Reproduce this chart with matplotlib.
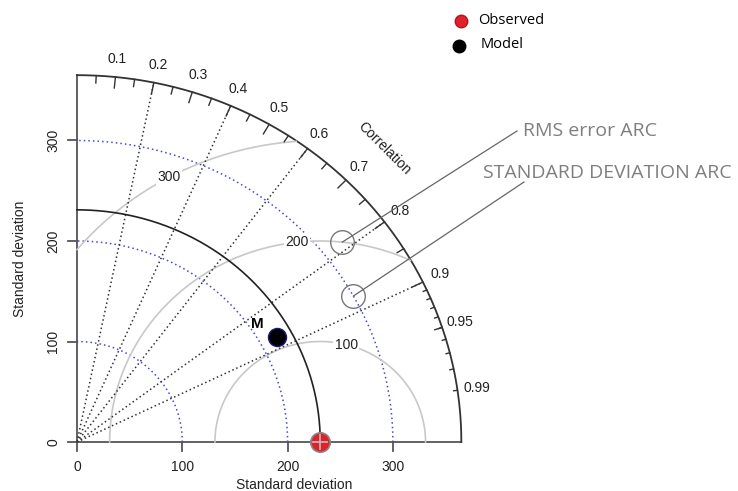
import numpy as np
import matplotlib
matplotlib.use('Agg')
import matplotlib.pyplot as plt

# taylor diagram values
obs_sd = 231.0
model_sd = 217.0
model_corr = 0.876
model_name = "M"
max_sd = 365.0
sd_arcs = [100, 200, 300]
rms_arcs = [100, 200, 300]
corr_lines = [0.2, 0.4, 0.6, 0.8, 0.9]
corr_labels = [0.1, 0.2, 0.3, 0.4, 0.5, 0.6, 0.7, 0.8, 0.9, 0.95, 0.99]
sd_ticks = [0, 100, 200, 300]
legend_names = ["Observed", "Model"]
note_names = ["RMS error ARC", "STANDARD DEVIATION ARC"]

W, H = 738, 491
# where the origin sits (pixels from top-left) and pixels per unit
X0, Y0 = 77, 442
SX, SY = 1.053, 1.005

fig = plt.figure(figsize=(W / 100, H / 100), dpi=100)
ax = fig.add_axes([0, 0, 1, 1])
ax.set_xlim(-X0 / SX, (W - X0) / SX)
ax.set_ylim((Y0 - H) / SY, Y0 / SY)
ax.axis('off')


def px(x, y):
    # pixel position -> data units
    return (x - X0) / SX, (Y0 - y) / SY


def fpx(x, y):
    # pixel position -> figure fraction
    return x / W, 1 - y / H


tick_font = dict(family=['Liberation Sans', 'DejaVu Sans'], fontsize=10, color='#222222')

# axes lines and ticks
ax.plot([0, 0], [0, max_sd], color='#555555', lw=1.3)
ax.plot([0, max_sd], [0, 0], color='#555555', lw=1.3)
for t in sd_ticks:
    ax.plot([0, -9 / SX], [t, t], color='#555555', lw=1.3)
    ax.plot([t, t], [0, -9 / SY], color='#555555', lw=1.3)
    ax.text(*px(53, Y0 - t * SY), str(t), rotation=90, ha='center', va='center', **tick_font)
    ax.text(*px(X0 + t * SX, 467), str(t), ha='center', va='center', **tick_font)

fig.text(*fpx(294, 485), "Standard deviation", ha='center', va='center', **tick_font)
fig.text(*fpx(20, 259), "Standard deviation", rotation=90, ha='center', va='center', **tick_font)

theta = np.linspace(0, np.pi / 2, 300)

# outer arc
ax.plot(max_sd * np.cos(theta), max_sd * np.sin(theta), color='#333333', lw=1.3)

# blue sd arcs
for r in sd_arcs:
    ax.plot(r * np.cos(theta), r * np.sin(theta), color='#4646d8',
            lw=1.1, linestyle=(0, (1, 2)))

# rms arcs around the observed point
ang = np.linspace(0, np.pi, 600)
label_idx = np.linspace(45, 70, len(rms_arcs)).astype(int) - 1
for i, g in enumerate(rms_arcs):
    xc = obs_sd + g * np.cos(ang)
    yc = g * np.sin(ang)
    keep = (xc >= 0) & (xc ** 2 + yc ** 2 <= max_sd ** 2)
    ax.plot(np.where(keep, xc, np.nan), np.where(keep, yc, np.nan), color='#c8c8c8', lw=1.2)
    a = label_idx[i] * 0.03
    ax.text(obs_sd + g * np.cos(a), g * np.sin(a), str(g), ha='center', va='center',
            bbox=dict(facecolor='white', edgecolor='none', pad=1), zorder=4, **tick_font)

# correlation rays
for c in corr_lines:
    ax.plot([0, max_sd * c], [0, max_sd * np.sqrt(1 - c ** 2)], color='#333333',
            lw=1.1, linestyle=(0, (1, 1.8)))

# ticks on the outer arc
for cs, ln in [(np.arange(0.1, 0.91, 0.1), 0.03), (np.arange(0.05, 0.96, 0.1), 0.02),
               (np.arange(0.91, 0.995, 0.01), 0.01)]:
    a = np.arccos(cs)
    for aa in a:
        ax.plot([max_sd * np.cos(aa), (1 - ln) * max_sd * np.cos(aa)],
                [max_sd * np.sin(aa), (1 - ln) * max_sd * np.sin(aa)], color='#333333', lw=1.0)

for c in corr_labels:
    aa = np.arccos(c)
    ax.text(1.05 * max_sd * np.cos(aa), 1.05 * max_sd * np.sin(aa), str(c),
            ha='center', va='center', **tick_font)
ax.text(0.8 * max_sd, 0.8 * max_sd, "Correlation", rotation=-45, ha='center', va='center', **tick_font)

# reference sd arc
ax.plot(obs_sd * np.cos(theta), obs_sd * np.sin(theta), color='#222222', lw=1.2, zorder=3)

# observed and model points
ax.plot(obs_sd, 0, 'o', ms=14, mfc='#e0202a', mec='#888888', mew=1.2, zorder=5, clip_on=False)
ax.plot(obs_sd, 0, '+', ms=11, mec='#bbbbbb', mew=1.2, zorder=6, clip_on=False)
mx, my = model_sd * model_corr, model_sd * np.sqrt(1 - model_corr ** 2)
ax.plot(mx, my, 'o', ms=13, mfc='black', mec='#1a1a80', mew=1.0, zorder=5)
ax.annotate(model_name, (mx, my), xytext=(-14, 9), textcoords='offset points',
            ha='center', va='center', fontsize=11, fontweight='bold',
            family=['Liberation Sans', 'DejaVu Sans'], zorder=6)

# callouts for the arcs
note_font = dict(family=['Open Sans', 'DejaVu Sans'], fontsize=14, color='#7f7f7f')
a1 = np.radians(84)
c1 = (obs_sd + 200 * np.cos(a1), 200 * np.sin(a1))
a2 = np.arccos(0.875)
c2 = (300 * np.cos(a2), 300 * np.sin(a2))
for (cx, cy), end in [(c1, (517, 131)), (c2, (524, 182))]:
    ax.plot(cx, cy, 'o', ms=17, mfc='none', mec='#777777', mew=1.0, zorder=5)
    ex, ey = px(*end)
    ax.plot([cx, ex], [cy, ey], color='#666666', lw=0.9, zorder=5)
fig.text(*fpx(523, 131), note_names[0], ha='left', va='center', **note_font)
fig.text(*fpx(483, 173), note_names[1], ha='left', va='center', **note_font)

# legend
leg_font = dict(family=['Open Sans', 'DejaVu Sans'], fontsize=10.5, color='black')
ax.plot(*px(461, 21), 'o', ms=9, mfc='#e0202a', mec='#b01818', clip_on=False)
ax.plot(*px(459, 46), 'o', ms=9, mfc='black', mec='black', clip_on=False)
fig.text(*fpx(478, 21), legend_names[0], ha='left', va='center', **leg_font)
fig.text(*fpx(481, 45), legend_names[1], ha='left', va='center', **leg_font)

fig.savefig('out.png', dpi=100, facecolor='white')
